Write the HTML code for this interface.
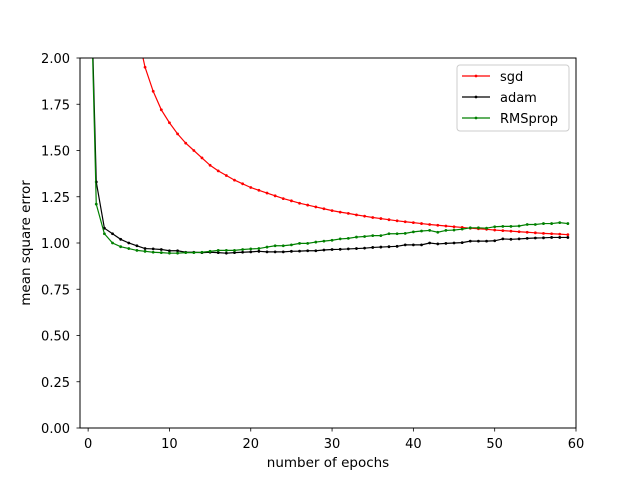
<!DOCTYPE html>
<html><head><meta charset="utf-8"><style>
body{margin:0;background:#fff}
svg{display:block;font-family:"DejaVu Sans","Liberation Sans",sans-serif}
</style></head><body>
<svg id="chart" width="640" height="480" viewBox="0 0 640 480">
<defs><clipPath id="clip"><rect x="80" y="58" width="496" height="370"/></clipPath></defs>
<rect x="0" y="0" width="640" height="480" fill="#fff"/>
<g id="series" clip-path="url(#clip)"></g>
<g id="axes"></g>
<g id="legend"></g>
</svg>
<script>
const epochs = Array.from({length:60},(_,i)=>i);
const sgd = [10,6,4.5,3.5,2.9,2.45,2.15,1.95,1.82,1.72,1.65,1.59,1.54,1.50,1.46,1.42,1.39,1.365,1.34,1.32,1.30,1.285,1.27,1.255,1.24,1.228,1.215,1.205,1.195,1.185,1.175,1.167,1.16,1.152,1.145,1.138,1.132,1.126,1.12,1.115,1.11,1.105,1.1,1.096,1.092,1.088,1.084,1.08,1.077,1.074,1.07,1.067,1.064,1.061,1.058,1.055,1.052,1.05,1.048,1.045];
const adam = [3,1.33,1.08,1.05,1.02,1.0,0.985,0.97,0.968,0.965,0.958,0.958,0.95,0.95,0.948,0.95,0.948,0.945,0.948,0.95,0.952,0.955,0.952,0.952,0.952,0.955,0.956,0.958,0.958,0.962,0.965,0.966,0.968,0.97,0.972,0.976,0.978,0.98,0.982,0.99,0.99,0.99,1.0,0.995,0.998,1.0,1.002,1.01,1.01,1.01,1.012,1.022,1.02,1.022,1.025,1.027,1.028,1.03,1.03,1.03];
const rmsprop = [3,1.21,1.05,1.0,0.98,0.97,0.96,0.955,0.95,0.948,0.945,0.945,0.948,0.948,0.95,0.955,0.96,0.96,0.96,0.965,0.968,0.97,0.978,0.985,0.985,0.99,0.998,0.998,1.005,1.01,1.015,1.022,1.025,1.032,1.035,1.04,1.04,1.05,1.05,1.052,1.06,1.065,1.068,1.058,1.068,1.07,1.075,1.082,1.082,1.08,1.088,1.09,1.09,1.092,1.1,1.1,1.105,1.105,1.11,1.105];
const xTicks = [0,10,20,30,40,50,60];
const yTicks = [0,0.25,0.5,0.75,1.0,1.25,1.5,1.75,2.0];
const seriesNames = ["sgd","adam","RMSprop"];
const seriesColors = ["#ff0000","#000000","#008000"];

const X0=80,X1=576,Y0=428,Y1=58, xmin=-1,xmax=60,ymin=0,ymax=2;
const sx=v=>X0+(v-xmin)/(xmax-xmin)*(X1-X0);
const sy=v=>Y0-(v-ymin)/(ymax-ymin)*(Y0-Y1);
const NS="http://www.w3.org/2000/svg";
function mk(tag,attrs,parent){const e=document.createElementNS(NS,tag);for(const k in attrs)e.setAttribute(k,attrs[k]);parent.appendChild(e);return e;}

const sg=document.getElementById('series');
[sgd,adam,rmsprop].forEach((data,si)=>{
  const g=mk('g',{},sg);
  
  
  const pts=data.map((v,i)=>sx(epochs[i]).toFixed(2)+','+sy(v).toFixed(2)).join(' ');
  const pl=mk('polyline',{points:pts,fill:'none',stroke:seriesColors[si],'stroke-width':1.2},g);
  
  
  data.forEach((v,i)=>{
    const c=mk('circle',{cx:sx(epochs[i]),cy:sy(v),r:1.4,fill:seriesColors[si]},g);
    
    
  });
});

const ax=document.getElementById('axes');
const frame=mk('rect',{x:X0,y:Y1,width:X1-X0,height:Y0-Y1,fill:'none',stroke:'#000','stroke-width':1},ax);


xTicks.forEach(t=>{
  const x=sx(t);
  mk('line',{x1:x,y1:Y0,x2:x,y2:Y0+3.5,stroke:'#000','stroke-width':0.8},ax);
  const tx=mk('text',{x:x,y:Y0+20,'text-anchor':'middle','font-size':13},ax);
  tx.textContent=t;
  
  
});
yTicks.forEach(t=>{
  const y=sy(t);
  mk('line',{x1:X0-3.5,y1:y,x2:X0,y2:y,stroke:'#000','stroke-width':0.8},ax);
  const tx=mk('text',{x:X0-10,y:y+5,'text-anchor':'end','font-size':13},ax);
  tx.textContent=t.toFixed(2);
  
  
});
const xl=mk('text',{x:(X0+X1)/2,y:467,'text-anchor':'middle','font-size':13.5},ax);
xl.textContent='number of epochs';


const yl=mk('text',{x:30,y:(Y0+Y1)/2,'text-anchor':'middle','font-size':13.5,transform:'rotate(-90 30 '+((Y0+Y1)/2)+')'},ax);
yl.textContent='mean square error';



const lg=document.getElementById('legend');
mk('rect',{x:457,y:65,width:112,height:66,rx:3,fill:'#fff',stroke:'#ccc','stroke-width':1},lg);
seriesNames.forEach((n,i)=>{
  const y=76+i*21;
  const e=mk('g',{},lg);
  
  
  mk('line',{x1:462,y1:y,x2:490,y2:y,stroke:seriesColors[i],'stroke-width':1.2},e);
  mk('circle',{cx:476,cy:y,r:1.4,fill:seriesColors[i]},e);
  const t=mk('text',{x:500,y:y+5,'font-size':13},e);
  t.textContent=n;
});
</script>
</body></html>
